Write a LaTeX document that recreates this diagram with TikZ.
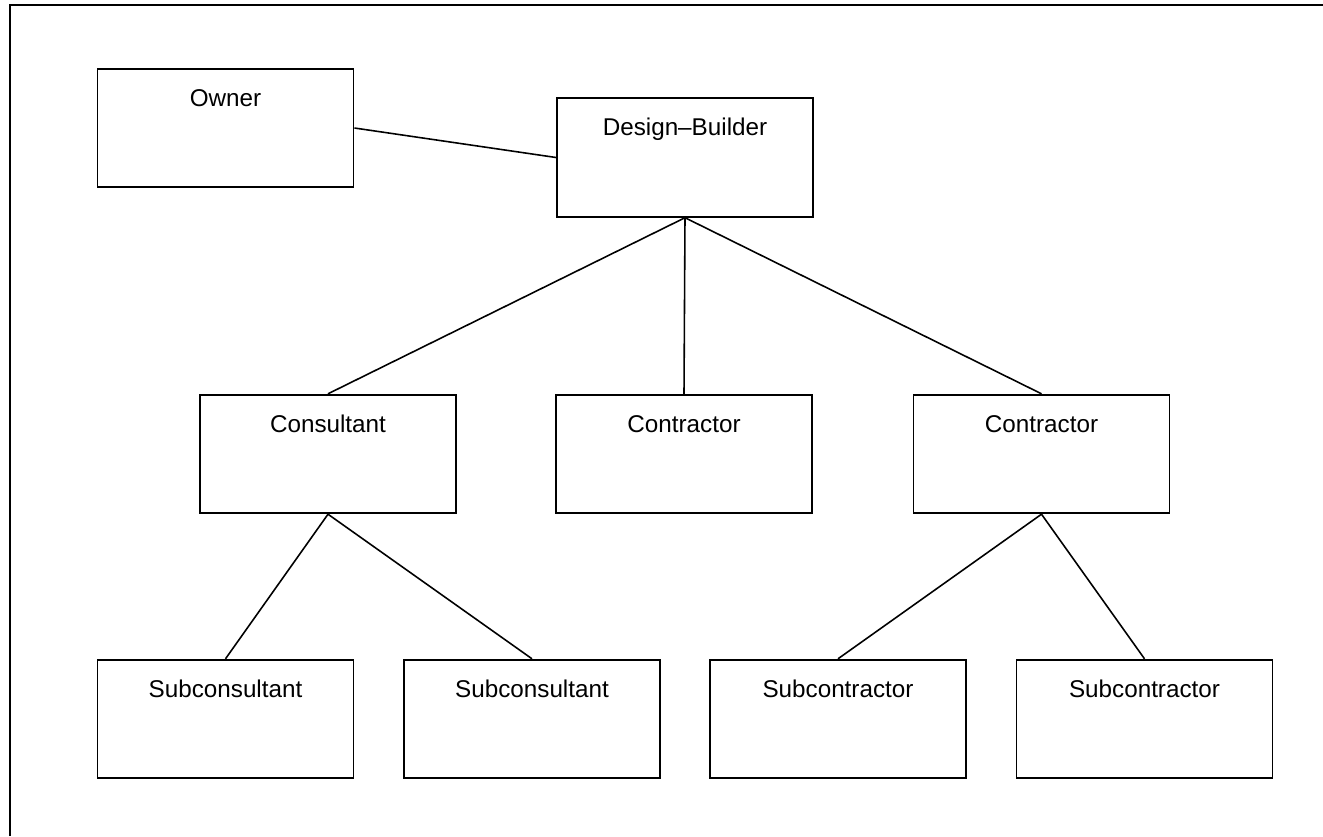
\documentclass[tikz,border=0pt]{standalone}
\usepackage{fontspec}
\setmainfont{Liberation Sans}
\begin{document}
\begin{tikzpicture}
[
x=0.02cm,y=-0.02cm,
orgbox/.style={draw,line width=1.1pt,minimum width=5.12cm,inner sep=0pt,
  text height=0.75cm,text depth=1.62cm,font=\fontsize{13.8}{16}\selectfont},
orgline/.style={draw,line width=0.9pt},
frameline/.style={draw,line width=1.3pt}
]
\useasboundingbox (0,0) rectangle (1323,836);
\draw[frameline] (10,836) -- (10,5) -- (1323,5);

\node[orgbox] (owner) at (225.5,128) {Owner};
\node[orgbox] (db) at (685,157.5) {Design–Builder};
\node[orgbox] (cons) at (328,454) {Consultant};
\node[orgbox] (contr1) at (684,454) {Contractor};
\node[orgbox] (contr2) at (1041.5,454) {Contractor};

\foreach \n/\x/\t in {sc1/225.5/Subconsultant,sc2/532/Subconsultant,
                      sk1/838/Subcontractor,sk2/1144.5/Subcontractor} {
  \node[orgbox] (\n) at (\x,719) {\t};
}

\draw[orgline] (owner.east) -- (db.west);
\draw[orgline] (db.south) -- (cons.north);
\draw[orgline] (db.south) -- (contr1.north);
\draw[orgline] (db.south) -- (contr2.north);
\draw[orgline] (cons.south) -- (sc1.north);
\draw[orgline] (cons.south) -- (sc2.north);
\draw[orgline] (contr2.south) -- (sk1.north);
\draw[orgline] (contr2.south) -- (sk2.north);

\end{tikzpicture}
\end{document}
